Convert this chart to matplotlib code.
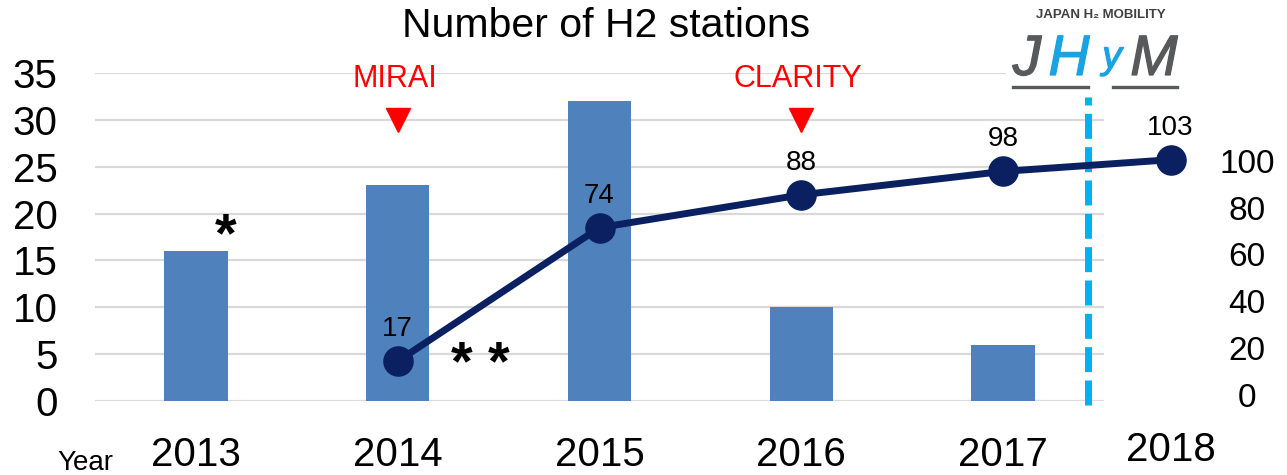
import numpy as np
import matplotlib
matplotlib.use('Agg')
import matplotlib.pyplot as plt
import matplotlib.patheffects as pe
from matplotlib.transforms import ScaledTranslation
from matplotlib.patches import Rectangle
from matplotlib.lines import Line2D

plt.rcParams['font.family'] = ['Liberation Sans', 'DejaVu Sans']

# data
bar_years = ['2013', '2014', '2015', '2016', '2017']
bar_values = [16, 23, 32, 10, 6]          # stations opened per year (left axis)
line_years = ['2014', '2015', '2016', '2017', '2018']
line_values = [17, 74, 88, 98, 103]       # cumulative stations (right axis)
events = ['MIRAI', 'CLARITY']
event_years = ['2014', '2016']
left_ticks = [0, 5, 10, 15, 20, 25, 30, 35]
right_ticks = [0, 20, 40, 60, 80, 100]

BAR_BLUE = '#4F81BD'
NAVY = '#0A2060'
RED = '#FF0000'
DASH_BLUE = '#00B0F0'
GRID = '#D9D9D9'
LOGO_GRAY = '#58595B'
LOGO_BLUE = '#1AA3E0'

# 2018 sits outside the bar area, right of the dashed divider
pos = {y: i for i, y in enumerate(bar_years)}
pos['2018'] = 4.83
divider_x = 4.42

fig = plt.figure(figsize=(12.87, 4.75), dpi=100)
ax = fig.add_axes([95 / 1287, 74 / 475, 1009 / 1287, 328 / 475])

x_bar = [pos[y] for y in bar_years]
ax.bar(x_bar, bar_values, width=0.315, color=BAR_BLUE, zorder=2)

ax.set_xlim(-0.5, 4.5)
ax.set_ylim(0, 35)
ax.set_yticks(left_ticks)
ax.set_xticks(x_bar)
ax.set_xticklabels(bar_years)
ax.tick_params(axis='y', length=0, pad=27, labelsize=29)
ax.tick_params(axis='x', length=0, pad=25, labelsize=29)
ax.grid(axis='y', color=GRID, linewidth=1.6, zorder=0)
ax.set_axisbelow(True)
for s in ax.spines.values():
    s.set_visible(False)

# 2018 label (outside the axis range)
ax.text(pos['2018'], -0.150, '2018', transform=ax.get_xaxis_transform(),
        ha='center', va='center', fontsize=29, clip_on=False)

# dashed divider
ax.plot([divider_x, divider_x], [-0.4, 32.4], color=DASH_BLUE, linewidth=5,
        dashes=(3.6, 1.2), clip_on=False, zorder=3)

# right axis with cumulative line
ax2 = ax.twinx()
ax2.set_ylim(0, 140)
ax2.set_yticks(right_ticks)
ax2.tick_params(axis='y', length=0, pad=103, labelsize=24)
for s in ax2.spines.values():
    s.set_visible(False)
for lab in ax2.get_yticklabels():
    lab.set_horizontalalignment('center')
    lab.set_transform(lab.get_transform() + ScaledTranslation(0, 6 / 100, fig.dpi_scale_trans))

x_line = [pos[y] for y in line_years]
ax2.plot(x_line, line_values, color=NAVY, linewidth=5, marker='o', markersize=21,
         clip_on=False, zorder=4)
for x, v in zip(x_line, line_values):
    ax2.annotate(str(v), (x, v), xytext=(0, 23), textcoords='offset points',
                 ha='center', va='center', fontsize=20, annotation_clip=False)

# model launch markers
for name, yr in zip(events, event_years):
    ax.text(pos[yr] - 0.015, 34.35, name, color=RED, fontsize=22, ha='center', va='center')
    ax.plot(pos[yr], 30.0, marker='v', markersize=17, color=RED, zorder=3)

# footnote asterisks
ax.text(0.145, 16.0, '*', fontsize=40, fontweight='bold', ha='center', va='baseline')
ax.text(1.41, 2.2, '* *', fontsize=40, fontweight='bold', ha='center', va='baseline')

fig.text(606 / 1287, 1 - 26 / 475, 'Number of H2 stations', fontsize=29.5,
         ha='center', va='center')
fig.text(85 / 1287, 5 / 475, 'Year', fontsize=20, ha='center', va='baseline')

# logo block (covers the top gridline on the right)
fig.add_artist(Rectangle((1006 / 1287, 1 - 95 / 475), 190 / 1287, 95 / 475,
                         transform=fig.transFigure, facecolor='white',
                         edgecolor='none', zorder=5))
fig.text(1101 / 1287, 1 - 15 / 475, 'JAPAN H\u2082 MOBILITY', fontsize=9.5,
         fontweight='bold', color='#404040', ha='center', va='center', zorder=6)
logo_letters = ['J', 'H', 'y', 'M']
logo_x = [1027, 1069, 1112, 1154]
logo_colors = [LOGO_GRAY, LOGO_BLUE, LOGO_BLUE, LOGO_GRAY]
logo_sizes = [41, 41, 28, 41]
logo_base = [75, 75, 68, 75]
for ch, lx, c, fs, b in zip(logo_letters, logo_x, logo_colors, logo_sizes, logo_base):
    fig.text(lx / 1287, 1 - b / 475, ch, fontsize=fs, style='italic', color=c,
             ha='center', va='baseline', zorder=6,
             path_effects=[pe.Stroke(linewidth=0.9, foreground=c), pe.Normal()])
for x0, x1 in [(1013, 1088), (1113, 1177)]:
    fig.add_artist(Line2D([x0 / 1287, x1 / 1287], [1 - 87 / 475, 1 - 87 / 475],
                          transform=fig.transFigure, color=LOGO_GRAY,
                          linewidth=2.4, zorder=6))

fig.savefig('out.png', dpi=100)
